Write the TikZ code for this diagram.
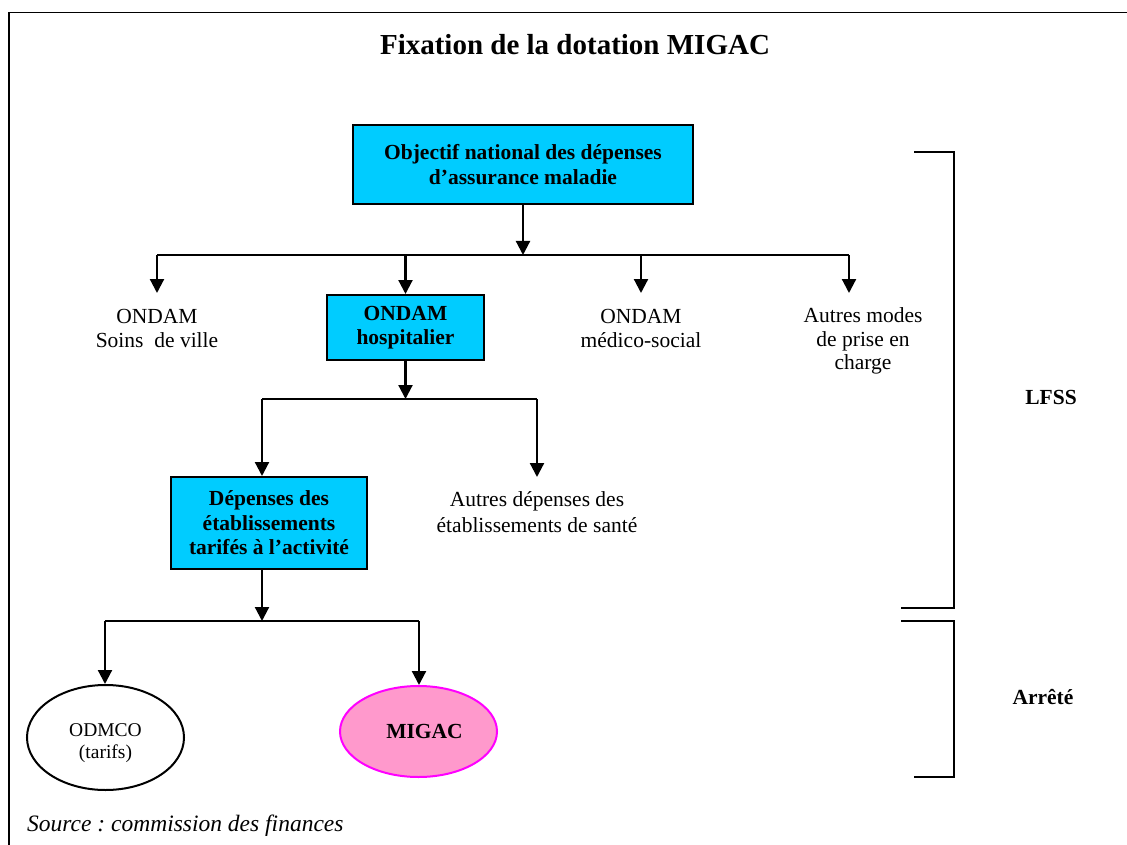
\documentclass[tikz,border=0pt]{standalone}
\usepackage{fontspec}
\setmainfont{Liberation Serif}
\usetikzlibrary{arrows.meta,shapes.geometric}
\definecolor{boxcyan}{HTML}{00CCFF}
\definecolor{migacpink}{HTML}{FF99CC}
\definecolor{migacedge}{HTML}{FF00FF}
\frenchspacing
\tikzset{
  conn/.style={line width=2.2pt},
  arr/.style={conn,-{Triangle[length=14pt,width=14pt]}},
  bluebox/.style={draw,line width=2pt,fill=boxcyan,align=center,inner sep=0pt,
    font=\fontsize{21.5}{24.5}\selectfont\bfseries},
  plain/.style={align=center,inner sep=0pt,font=\fontsize{21.5}{23.5}\selectfont},
  bracket/.style={line width=2.2pt},
}
\begin{document}
\begin{tikzpicture}[x=1pt,y=-1pt]
\useasboundingbox (0,0) rectangle (1127,845);
% frame
\draw[line width=1.8pt] (9,845) -- (9,12.5) -- (1127,12.5);
\node[font=\fontsize{29}{32}\selectfont\bfseries] (title) at (575,45) {Fixation de la dotation MIGAC};

% level 1
\node[bluebox,minimum width=340pt,minimum height=79pt] (obj) at (523,164.5)
  {Objectif national des dépenses\\d’assurance maladie};
\coordinate (b1L) at (157,255);
\coordinate (b1M) at (523,255);
\coordinate (b1R) at (849,255);
\draw[arr] (obj.south) -- (b1M);
\draw[conn] (b1L) -- (b1R);

% level 2
\node[bluebox,minimum width=157pt,minimum height=65pt] (hosp) at (405.5,327.5)
  {ONDAM\\hospitalier};
\node[plain] (soins) at (157,328.5) {ONDAM\\Soins\ \ de ville};
\node[plain] (medico) at (641,328.5) {ONDAM\\médico-social};
\node[plain] (autres) at (863,341) {Autres modes\\de prise en\\charge};
\coordinate (t1) at (157,293);
\coordinate (b1C) at (641,255);
\coordinate (t3) at (641,293);
\coordinate (t4) at (849,293);
\draw[arr] (b1L) -- (t1);
\draw[arr] (b1L -| hosp.north) -- (hosp.north);
\draw[arr] (b1C) -- (t3);
\draw[arr] (b1R) -- (t4);

% level 3
\coordinate (b2L) at (262,399);
\coordinate (b2R) at (537,399);
\draw[arr] (hosp.south) -- (b2L -| hosp.south);
\draw[conn] (b2L) -- (b2R);
\node[bluebox,minimum width=196pt,minimum height=92pt] (etab) at (269,523)
  {Dépenses des\\établissements\\tarifés à l’activité};
\node[plain,font=\fontsize{21.5}{26}\selectfont] (autdep) at (537,512)
  {Autres dépenses des\\établissements de santé};
\coordinate (t6) at (537,477);
\draw[arr] (b2L) -- (b2L |- etab.north);
\draw[arr] (b2R) -- (t6);

% level 4
\coordinate (b3L) at (105,621);
\coordinate (b3M) at (262,621);
\coordinate (b3R) at (419,621);
\draw[arr] (etab.south -| b3M) -- (b3M);
\draw[conn] (b3L) -- (b3R);
\node[draw,ellipse,line width=2pt,minimum width=157pt,minimum height=105pt,inner sep=0pt] (odmco) at (105.5,737.5) {};
\node[plain,font=\fontsize{19.5}{22}\selectfont] (odmcotxt) at (105.5,743) {ODMCO\\(tarifs)};
\node[draw=migacedge,fill=migacpink,ellipse,line width=2pt,minimum width=157pt,minimum height=91pt,inner sep=0pt,
  font=\fontsize{21.5}{24}\selectfont\bfseries] (migac) at (418.5,731.5) {\hspace*{12pt}MIGAC};
\draw[arr] (b3L) -- (b3L |- odmco.north);
\draw[arr] (b3R) -- (b3R |- migac.north);

% source
\node[anchor=west,inner sep=0pt,font=\fontsize{23.5}{26}\selectfont\itshape] (src) at (27,826) {Source : commission des finances};

% brackets
\coordinate (l1) at (914,152);
\coordinate (l2) at (954,152);
\coordinate (l3) at (954,608);
\coordinate (l4) at (901,608);
\draw[bracket] (l1) -- (l2) -- (l3) -- (l4);
\coordinate (a1) at (901,621);
\coordinate (a2) at (954,621);
\coordinate (a3) at (954,777);
\coordinate (a4) at (914,777);
\draw[bracket] (a1) -- (a2) -- (a3) -- (a4);
\node[font=\fontsize{21.5}{24}\selectfont\bfseries] (lfss) at (1051,397) {LFSS};
\node[font=\fontsize{21.5}{24}\selectfont\bfseries] (arrete) at (1043,697) {Arrêté};
\end{tikzpicture}
\end{document}
